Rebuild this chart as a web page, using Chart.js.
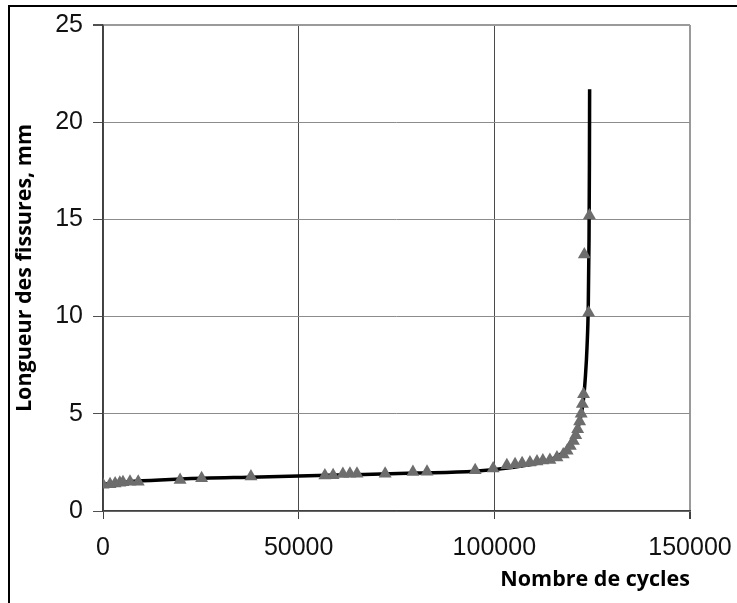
<!DOCTYPE html>
<html>
<head>
<meta charset="utf-8">
<script src="https://cdn.jsdelivr.net/npm/chart.js@4.4.0/dist/chart.umd.min.js"></script>
<style>
    body { margin: 0; background: #fff; }
    #wrap { position: relative; width: 737px; height: 603px; }
    #frame { position: absolute; left: 8px; top: 5px; right: 0; bottom: 0; border-top: 2px solid #000; border-left: 2px solid #000; pointer-events: none; }
</style>
</head>
<body>
<div id="wrap">
    <canvas id="crackChart"></canvas>
    <div id="frame"></div>
</div>
<script>
// measured points (triangles)
const cycles = [0, 1800, 3100, 4300, 5100, 6900, 9000, 19700, 25200, 37800,
    56700, 58800, 61300, 63100, 64900, 72100, 79200, 82800, 95100, 99700,
    103200, 105300, 107100, 109100, 110900, 112400, 114200, 116000, 117600, 118600,
    119400, 120200, 120800, 121300, 121800, 122200, 122500, 122800, 124100, 123000, 124300];
const lengths = [1.35, 1.38, 1.42, 1.45, 1.48, 1.5, 1.5, 1.6, 1.68, 1.78,
    1.82, 1.84, 1.9, 1.92, 1.92, 1.92, 2.0, 2.02, 2.1, 2.18,
    2.35, 2.4, 2.45, 2.5, 2.55, 2.6, 2.62, 2.75, 2.9, 3.1,
    3.35, 3.6, 3.9, 4.2, 4.6, 5.0, 5.5, 6.0, 10.2, 13.2, 15.2];

// fitted curve (black line)
const curveCycles = [0, 10000, 20000, 40000, 60000, 80000, 95000, 105000, 112000, 116000,
    118500, 120500, 121800, 122700, 123300, 123700, 124000, 124200, 124300, 124350];
const curveLengths = [1.38, 1.55, 1.65, 1.75, 1.85, 1.95, 2.05, 2.25, 2.5, 2.8,
    3.2, 3.8, 4.6, 5.6, 7.0, 8.5, 10.5, 14, 18, 21.7];

const xTicks = [0, 50000, 100000, 150000];
const yTicks = [0, 5, 10, 15, 20, 25];

const toPoints = (xs, ys) => xs.map((x, i) => ({ x, y: ys[i] }));

const ctx = document.getElementById('crackChart').getContext('2d');
new Chart(ctx, {
    type: 'scatter',
    data: {
        datasets: [{
            label: 'Mesures',
            data: toPoints(cycles, lengths),
            pointStyle: 'triangle',
            pointRadius: 7.5,
            backgroundColor: '#6d6d6d',
            borderColor: '#6d6d6d',
            borderWidth: 0,
            order: 0
        }, {
            label: 'Courbe',
            data: toPoints(curveCycles, curveLengths),
            showLine: true,
            borderColor: '#000',
            borderWidth: 3.5,
            pointRadius: 0,
            cubicInterpolationMode: 'monotone',
            order: 1
        }]
    },
    options: {
        responsive: true,
        maintainAspectRatio: false,
        animation: false,
        events: [],
        layout: { padding: { left: 0, right: 47, top: 22, bottom: 0 } },
        plugins: {
            legend: { display: false },
            tooltip: { enabled: false }
        },
        scales: {
            x: {
                type: 'linear',
                min: 0,
                max: 150000,
                afterFit: s => { s.height = 92; s.paddingRight = 0; },
                afterBuildTicks: s => { s.ticks = xTicks.map(v => ({ value: v })); },
                grid: {
                    color: c => c.tick && c.tick.value === 150000 ? '#9a9a9a' : '#4a4a4a',
                    lineWidth: c => c.tick && c.tick.value === 150000 ? 2 : 1,
                    tickLength: 8,
                    tickColor: '#404040'
                },
                border: { color: '#404040', width: 1.5 },
                ticks: {
                    padding: 14,
                    color: '#111',
                    maxRotation: 0,
                    font: { family: 'Liberation Sans', size: 25 },
                    callback: v => String(v)
                },
                title: {
                    display: true,
                    text: 'Nombre de cycles',
                    align: 'end',
                    color: '#000',
                    font: { family: 'Open Sans', size: 21.5, weight: 'bold' },
                    padding: { top: 0, bottom: 10 }
                }
            },
            y: {
                min: 0,
                max: 25,
                afterFit: s => { s.width = 103; },
                afterBuildTicks: s => { s.ticks = yTicks.map(v => ({ value: v })); },
                grid: {
                    color: c => c.tick && c.tick.value === 25 ? '#9a9a9a' : '#8c8c8c',
                    lineWidth: c => c.tick && c.tick.value === 25 ? 2 : 1,
                    tickLength: 10,
                    tickColor: '#505050'
                },
                border: { color: '#404040', width: 1.5 },
                ticks: {
                    padding: 10,
                    color: '#111',
                    font: { family: 'Liberation Sans', size: 25 }
                },
                title: {
                    display: true,
                    text: 'Longueur des fissures, mm',
                    color: '#000',
                    font: { family: 'Open Sans', size: 21.5, weight: 'bold' },
                    padding: { top: 12, bottom: 0 }
                }
            }
        }
    }
});
</script>
</body>
</html>
